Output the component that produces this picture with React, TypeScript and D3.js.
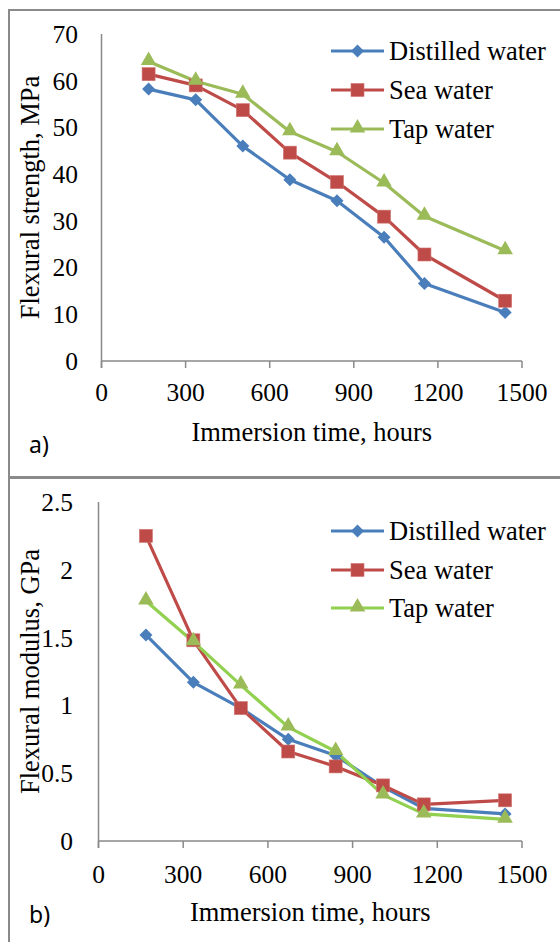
import React from "react";
import * as d3 from "d3";

const hours = [168, 336, 504, 672, 840, 1008, 1152, 1440];
const xTicks = [0, 300, 600, 900, 1200, 1500];

const strengthDistilled = [58.2, 55.9, 46.0, 38.8, 34.3, 26.5, 16.6, 10.4];
const strengthSea = [61.4, 59.0, 53.7, 44.6, 38.3, 30.9, 22.8, 12.9];
const strengthTap = [64.1, 59.9, 57.1, 49.1, 44.8, 38.1, 31.0, 23.6];
const strengthTicks = [0, 10, 20, 30, 40, 50, 60, 70];

const modulusDistilled = [1.52, 1.17, 0.98, 0.75, 0.63, 0.40, 0.24, 0.20];
const modulusSea = [2.25, 1.48, 0.98, 0.66, 0.55, 0.41, 0.27, 0.30];
const modulusTap = [1.77, 1.47, 1.15, 0.84, 0.66, 0.34, 0.20, 0.16];
const modulusTicks = [0, 0.5, 1, 1.5, 2, 2.5];

const seriesNames = ["Distilled water", "Sea water", "Tap water"];

const SERIF = "'Liberation Serif', 'Times New Roman', serif";
const SANS = "'Noto Sans', 'Open Sans', sans-serif";
const AXIS = "#898989";
const BLUE = "#4A7EBB";
const RED = "#BE4B48";
const GREEN_M = "#9BBB59";
const TICK_FS = 25.5;
const TEXT_FS = 26.5;

type Cfg = {
  x0: number; x1: number; y0: number; y1: number;
  yMax: number; yTicks: number[]; ylabRight: number;
  xTickBase: number; xTitleBase: number; yTitle: string;
  series: number[][]; greenLine: string; legendRows: number[];
  tag: string; tagBase: number;
};

function Marker({ kind, x, y, color }: { kind: number; x: number; y: number; color: string }) {
  if (kind === 0) {
    const r = 6.5;
    return <path d={`M${x},${y - r}L${x + r},${y}L${x},${y + r}L${x - r},${y}Z`} fill={color} />;
  }
  if (kind === 1) {
    return <rect x={x - 6.5} y={y - 6.5} width={13} height={13} fill={color} stroke="#d07370" strokeWidth={0.6} />;
  }
  const t = d3.symbol(d3.symbolTriangle, 105)();
  return <path d={t as string} transform={`translate(${x},${y - 1})`} fill={color} />;
}

function Panel({ c }: { c: Cfg }) {
  const x = d3.scaleLinear().domain([0, 1500]).range([c.x0, c.x1]);
  const y = d3.scaleLinear().domain([0, c.yMax]).range([c.y0, c.y1]);
  const line = d3.line<number>().x((_, i) => x(hours[i])).y((v) => y(v));
  const lineColors = [BLUE, RED, c.greenLine];
  const markColors = [BLUE, RED, GREEN_M];
  const legX0 = 331, legX1 = 384, legText = 389;
  return (
    <g>
      {c.yTicks.map((t) => (
        <text key={"y" + t} x={c.ylabRight} y={y(t)} dy="0.35em" textAnchor="end"
          fontFamily={SERIF} fontSize={TICK_FS} fill="#000">{String(t)}</text>
      ))}
      {xTicks.map((t) => (
        <g key={"x" + t}>
          <line x1={x(t)} x2={x(t)} y1={c.y0} y2={c.y0 + 7} stroke={AXIS} strokeWidth={1.5} />
          <text x={x(t)} y={c.xTickBase} textAnchor="middle" fontFamily={SERIF} fontSize={TICK_FS} fill="#000">{String(t)}</text>
        </g>
      ))}
      <line x1={c.x0} x2={c.x0} y1={c.y1} y2={c.y0 + 7} stroke={AXIS} strokeWidth={1.5} />
      <line x1={c.x0} x2={c.x1} y1={c.y0} y2={c.y0} stroke={AXIS} strokeWidth={1.5} />
      <text x={(c.x0 + c.x1) / 2} y={c.xTitleBase} textAnchor="middle" fontFamily={SERIF} fontSize={TEXT_FS} fill="#000">Immersion time, hours</text>
      <text transform={`translate(30,${(c.y0 + c.y1) / 2}) rotate(-90)`} dy="0.35em" textAnchor="middle"
        fontFamily={SERIF} fontSize={TEXT_FS} fill="#000">{c.yTitle}</text>
      <text x={29} y={c.tagBase} fontFamily={SANS} fontSize={23} fill="#000">{c.tag}</text>
      {c.series.map((s, k) => (
        <path key={"l" + k} d={line(s) as string} fill="none" stroke={lineColors[k]} strokeWidth={3.2} strokeLinejoin="round" />
      ))}
      {c.series.map((s, k) =>
        s.map((v, i) => <Marker key={"m" + k + "-" + i} kind={k} x={x(hours[i])} y={y(v)} color={markColors[k]} />)
      )}
      {seriesNames.map((n, k) => (
        <g key={"lg" + k}>
          <line x1={legX0} x2={legX1} y1={c.legendRows[k]} y2={c.legendRows[k]} stroke={lineColors[k]} strokeWidth={3.2} />
          <Marker kind={k} x={(legX0 + legX1) / 2} y={c.legendRows[k]} color={markColors[k]} />
          <text x={legText} y={c.legendRows[k]} dy="0.35em" fontFamily={SERIF} fontSize={TEXT_FS} fill="#000">{n}</text>
        </g>
      ))}
    </g>
  );
}

export default function App() {
  const a: Cfg = {
    x0: 101.5, x1: 522, y0: 361, y1: 34, yMax: 70, yTicks: strengthTicks, ylabRight: 78,
    xTickBase: 401, xTitleBase: 441, yTitle: "Flexural strength, MPa",
    series: [strengthDistilled, strengthSea, strengthTap], greenLine: GREEN_M,
    legendRows: [51, 90, 129], tag: "a)", tagBase: 453,
  };
  const b: Cfg = {
    x0: 98.5, x1: 522, y0: 841, y1: 502, yMax: 2.5, yTicks: modulusTicks, ylabRight: 73,
    xTickBase: 883, xTitleBase: 921, yTitle: "Flexural modulus, GPa",
    series: [modulusDistilled, modulusSea, modulusTap], greenLine: "#92D050",
    legendRows: [531, 570, 608], tag: "b)", tagBase: 923,
  };
  return (
    <svg width={560} height={942} style={{ position: "absolute", left: 0, top: 0, background: "#fff" }}>
      <rect x={0} y={0} width={560} height={942} fill="#fff" />
      <rect x={9} y={10} width={580} height={467} fill="none" stroke="#8a8a8a" strokeWidth={2} />
      <rect x={9} y={478} width={580} height={500} fill="none" stroke="#8a8a8a" strokeWidth={2} />
      <Panel c={a} />
      <Panel c={b} />
    </svg>
  );
}
